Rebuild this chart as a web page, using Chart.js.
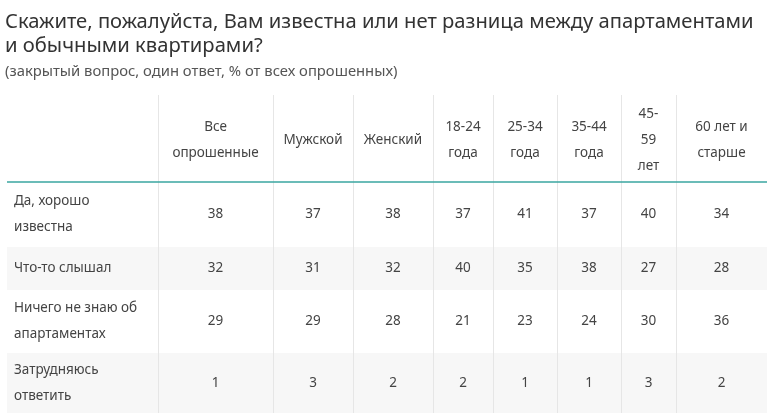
<!DOCTYPE html>
<html><head><meta charset="utf-8">
<script src="https://cdn.jsdelivr.net/npm/chart.js@4"></script>
<style>html,body{margin:0;padding:0;background:#fff}#w{width:767px;height:413px}</style>
</head><body><div id="w"><canvas id="c"></canvas></div>
<script>
const titleLines = ["Скажите, пожалуйста, Вам известна или нет разница между апартаментами", "и обычными квартирами?"];
const subtitle = "(закрытый вопрос, один ответ, % от всех опрошенных)";
const columns = [["Все","опрошенные"],["Мужской"],["Женский"],["18-24","года"],["25-34","года"],["35-44","года"],["45-","59","лет"],["60 лет и","старше"]];
const rowLabels = [["Да, хорошо","известна"],["Что-то слышал"],["Ничего не знаю об","апартаментах"],["Затрудняюсь","ответить"]];
const rowYes = [38,37,38,37,41,37,40,34];
const rowHeard = [32,31,32,40,35,38,27,28];
const rowNothing = [29,29,28,21,23,24,30,36];
const rowHard = [1,3,2,2,1,1,3,2];
const values = [rowYes,rowHeard,rowNothing,rowHard];

// layout (pixel grid)
const colEdges = [7,158,273,353,433,493,557,621,676,767];
const rowEdges = [95,182,247,290,353,413];
const FONT = "'Noto Sans', sans-serif";

const tablePlugin = {
  id:'table',
  afterDraw(chart){
    const ctx = chart.ctx, X = chart.scales.x, Y = chart.scales.y;
    const px = v=>X.getPixelForValue(v), py = v=>Y.getPixelForValue(v);
    ctx.save();
    ctx.fillStyle = '#f7f7f7';
    [2,4].forEach(r=>ctx.fillRect(px(colEdges[0]),py(rowEdges[r]),px(767)-px(colEdges[0]),py(rowEdges[r+1])-py(rowEdges[r])));
    ctx.strokeStyle = '#e6e6e6'; ctx.lineWidth = 1;
    for(let i=1;i<colEdges.length-1;i++){ctx.beginPath();ctx.moveTo(px(colEdges[i])+0.5,py(rowEdges[0]));ctx.lineTo(px(colEdges[i])+0.5,py(413));ctx.stroke();}
    ctx.strokeStyle = '#3aa6a0'; ctx.lineWidth = 1.5;
    ctx.beginPath();ctx.moveTo(px(colEdges[0]),py(rowEdges[1]));ctx.lineTo(px(767),py(rowEdges[1]));ctx.stroke();
    ctx.fillStyle='#333'; ctx.textBaseline='middle'; ctx.textAlign='left';
    ctx.font = "20.2px "+FONT;
    titleLines.forEach((t,i)=>ctx.fillText(t,px(5),py(22+i*24)));
    ctx.fillStyle='#555'; ctx.font="14.8px "+FONT;
    ctx.fillText(subtitle,px(5),py(72));
    const lh = 26;
    function multi(lines,x,yc,align){
      ctx.textAlign=align;
      const y0 = yc-(lines.length-1)*lh/2;
      lines.forEach((l,i)=>ctx.fillText(l,x,py(y0+i*lh)));
    }
    ctx.fillStyle='#444'; ctx.font="13.5px "+FONT;
    columns.forEach((c,i)=>multi(c,px((colEdges[i+1]+colEdges[i+2])/2),(rowEdges[0]+rowEdges[1])/2+2,'center'));
    rowLabels.forEach((r,j)=>{
      const yc=(rowEdges[j+1]+rowEdges[j+2])/2;
      multi(r,px(14),yc,'left');
      values[j].forEach((v,i)=>multi([String(v)],px((colEdges[i+1]+colEdges[i+2])/2),yc,'center'));
    });
    ctx.restore();
  }
};
new Chart(document.getElementById('c'),{
  type:'scatter',
  data:{datasets:[{data:[]}]},
  options:{responsive:true,maintainAspectRatio:false,animation:false,
    layout:{padding:0},
    plugins:{legend:{display:false},tooltip:{enabled:false}},
    scales:{x:{type:'linear',min:0,max:767,display:false},y:{type:'linear',min:0,max:413,reverse:true,display:false}}},
  plugins:[tablePlugin]
});
</script></body></html>
